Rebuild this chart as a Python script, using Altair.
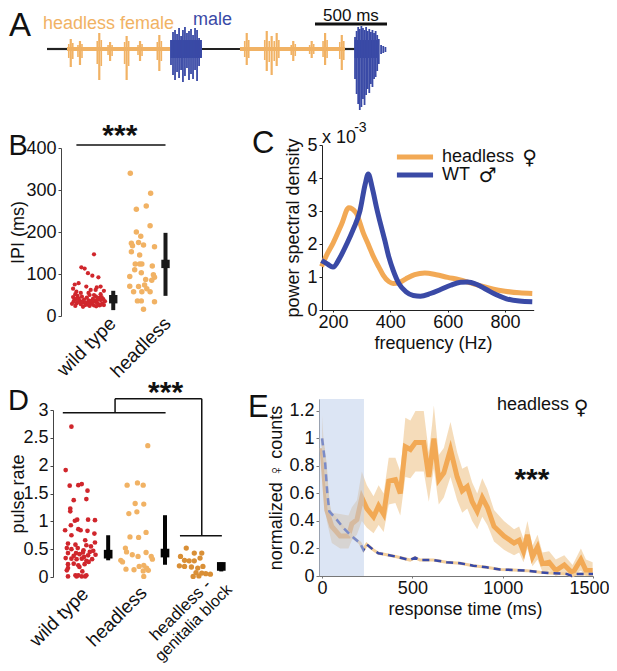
import altair as alt
import pandas as pd

FONT = "Liberation Sans"
SYM = "DejaVu Sans"
RED = "#d0262c"
ORANGE = "#f1b264"
DARKOR = "#d98f36"
BLUE = "#3a4aa6"
LINEOR = "#f2a955"
INK = "#111111"

# ---------------- data ----------------
# Panel A: song trace (time in ms, amplitude in arbitrary units)
a_black_start = [0, 1076, 2069]
a_black_end = [139, 1340, 2139]
a_fem_start = [139, 1340]
a_fem_end = [854, 2069]
a_pulse_t = [165, 229, 363, 438, 553, 646, 780, 1387, 1526, 1560, 1595, 1710, 1838, 1931, 2047]
a_pulse_top = [10, 8, 16, 7, 13, 8, 14, 16, 18, 13, 16, 8, 8, 16, 14]
a_pulse_bot = [-18, -16, -31, -12, -31, -12, -22, -16, -22, -26, -17, -12, -9, -16, -21]
a_sub_t = [151, 179, 215, 243, 349, 377, 424, 452, 539, 567, 632, 660, 766, 794,
           1373, 1401, 1512, 1543, 1578, 1610, 1696, 1724, 1824, 1852, 1917, 1945, 2033, 2061]
a_sub_top = [5, 6, 4, 5, 8, 9, 4, 4, 7, 8, 4, 5, 7, 8, 8, 9, 9, 8, 8, 9, 4, 5, 4, 5, 8, 9, 7, 8]
a_sub_bot = [-9, -10, -8, -9, -15, -17, -6, -7, -15, -17, -6, -7, -11, -12,
             -8, -9, -11, -13, -12, -9, -6, -7, -5, -5, -8, -9, -10, -11]
a_male1_t = [861, 875, 889, 903, 917, 931, 944, 958, 972, 986, 1000, 1014, 1028, 1042, 1056, 1069]
a_male1_top = [9, 17, 19, 15, 21, 13, 19, 22, 16, 18, 20, 14, 21, 19, 11, 4]
a_male1_bot = [-16, -26, -31, -23, -29, -21, -33, -27, -19, -31, -25, -30, -21, -32, -17, -8]
a_male2_t = [2139, 2150, 2161, 2172, 2183, 2194, 2205, 2216, 2227, 2238, 2249, 2260, 2271, 2282,
             2293, 2304, 2320, 2335, 2350]
a_male2_top = [12, 18, 22, 20, 23, 21, 19, 22, 18, 20, 17, 19, 16, 18, 14, 10, 4, 3, 2]
a_male2_bot = [-30, -45, -55, -61, -58, -50, -56, -46, -40, -44, -35, -38, -30, -28, -22, -15, -5, -4, -3]

# Panel B: inter-pulse interval (ms), jitter offset from group centre
b_wt_ipi = [147, 116, 113, 102, 96, 92, 75, 78, 70, 70, 62, 62, 58, 52, 55, 65, 60, 68,
            45, 40, 35, 30, 48, 42, 36, 28, 33, 46, 39, 31, 44, 27, 37, 50, 34, 29, 41, 25,
            36, 47, 32, 28, 43, 38, 30, 26, 35, 40, 24, 26, 24, 25, 33, 38, 29, 52, 55, 50,
            45, 32, 27, 34, 41, 30, 23, 22, 36, 44]
b_wt_dx = [0.10, -0.13, -0.07, -0.01, 0.07, 0.18, -0.25, -0.18, -0.04, 0.22, 0.04, 0.13, -0.22,
           0.22, 0.0, -0.28, 0.28, 0.15,
           -0.28, -0.25, -0.27, -0.22, -0.2, -0.18, -0.16, -0.14, -0.1, -0.12, -0.08, -0.05,
           -0.03, -0.01, 0.0, 0.02, 0.04, 0.06, 0.08, 0.1, 0.12, 0.13, 0.15, 0.18, 0.2, 0.22,
           0.25, 0.28, 0.3, 0.27, -0.24, -0.06, 0.02, 0.2, -0.2, 0.16, -0.3, -0.24, -0.14, 0.1,
           0.24, 0.08, 0.23, -0.12, -0.22, 0.0, 0.14, -0.1, 0.05, 0.16]
b_hd_ipi = [340, 292, 254, 262, 215, 200, 190, 173, 175, 167, 169, 165, 153, 145, 124, 124,
            124, 119, 110, 103, 98, 92, 94, 87, 85, 71, 70, 74, 65, 58, 58, 58, 36, 36, 34, 16]
b_hd_dx = [-0.24, 0.13, -0.13, 0.05, 0.12, -0.13, -0.05, -0.22, -0.09, -0.2, 0.0, 0.2, -0.22,
           -0.07, -0.15, -0.07, -0.03, 0.16, -0.16, -0.04, 0.18, 0.2, -0.25, 0.04, 0.15, -0.25,
           -0.09, 0.02, 0.06, -0.18, -0.03, 0.12, -0.11, -0.04, 0.2, 0.0]
b_err_x = [1.45, 2.4]
b_err_mid = [40, 124]
b_err_lo = [14, 48]
b_err_hi = [60, 198]

# Panel C: power spectral density (x 1e-3) vs frequency (Hz)
c_hd_f = [160, 180, 200, 230, 255, 280, 306, 325, 341, 360, 375, 395, 410, 430, 455, 485,
          520, 560, 600, 640, 680, 720, 760, 800, 850, 895]
c_hd_p = [1.32, 1.7, 2.02, 2.6, 3.1, 2.95, 2.33, 1.95, 1.62, 1.3, 1.06, 0.86, 0.8, 0.83,
          0.95, 1.07, 1.12, 1.07, 0.99, 0.92, 0.82, 0.72, 0.63, 0.57, 0.52, 0.5]
c_wt_f = [160, 180, 200, 225, 248, 271, 294, 312, 323, 337, 352, 366, 381, 395, 410, 430,
          455, 480, 505, 540, 575, 610, 645, 670, 700, 735, 770, 805, 850, 895]
c_wt_p = [1.5, 1.4, 1.3, 1.6, 2.0, 2.45, 3.0, 3.8, 4.12, 3.7, 3.1, 2.6, 2.1, 1.6, 1.2, 0.8,
          0.55, 0.44, 0.42, 0.5, 0.62, 0.75, 0.84, 0.85, 0.78, 0.62, 0.46, 0.34, 0.27, 0.25]

# Panel D: pulse rate
d_wt_rate = [2.70, 1.92, 1.64, 1.65, 1.67, 1.55, 1.38, 1.40, 1.23, 1.18, 1.01, 1.03, 1.03,
             1.02, 0.93, 0.84, 0.86, 0.84, 0.83, 0.78, 0.75, 0.66, 0.60, 0.58, 0.57, 0.62,
             0.52, 0.50, 0.52, 0.48, 0.45, 0.43, 0.43, 0.41, 0.39, 0.40, 0.34, 0.33, 0.32,
             0.33, 0.29, 0.32, 0.23, 0.24, 0.21, 0.23, 0.16, 0.18, 0.01, 0.01, 0.01, 0.01,
             0.03, 0.03, 0.03, 0.12, 0.10, 0.55, 0.47, 0.36, 0.27, 0.38, 0.44]
d_wt_dx = [-0.14, -0.24, -0.17, -0.02, 0.04, 0.14, -0.1, 0.12, -0.16, -0.16, -0.08, -0.04,
           0.15, 0.27, -0.15, -0.25, -0.02, 0.02, 0.14, 0.26, -0.14, 0.1, -0.2, -0.07, 0.12,
           0.27, -0.22, -0.14, -0.03, 0.07, 0.18, -0.2, -0.06, 0.0, 0.15, 0.28, -0.24, -0.14,
           -0.05, 0.04, 0.12, 0.22, -0.2, -0.1, -0.02, 0.09, -0.2, 0.0, -0.2, -0.05, 0.04, 0.1,
           -0.07, -0.02, 0.12, -0.22, 0.05, 0.2, 0.24, 0.08, 0.16, -0.1, 0.06]
d_hd_rate = [2.36, 1.65, 1.69, 1.65, 1.32, 1.31, 1.14, 1.17, 0.72, 0.71, 0.80, 0.52, 0.45,
             0.40, 0.44, 0.37, 0.27, 0.37, 0.14, 0.13, 0.19, 0.21, 0.16, 0.11, 0.12, 0.01,
             0.30, 0.32]
d_hd_dx = [0.19, -0.17, 0.01, 0.11, -0.03, 0.12, -0.14, 0.0, -0.12, 0.03, 0.16, -0.2, -0.18,
           -0.08, 0.16, 0.25, -0.25, 0.02, -0.19, -0.05, 0.04, 0.12, 0.17, 0.11, 0.2, 0.12,
           -0.28, 0.27]
d_gb_rate = [0.52, 0.43, 0.43, 0.37, 0.30, 0.29, 0.29, 0.34, 0.20, 0.19, 0.18, 0.16, 0.19,
             0.08, 0.07, 0.06, 0.05, 0.01, 0.02]
d_gb_dx = [-0.14, 0.0, 0.13, -0.24, -0.17, -0.09, 0.0, 0.1, -0.26, -0.17, -0.05, 0.06, 0.15,
           0.03, 0.13, 0.2, 0.28, -0.02, 0.08]
d_err_x = [1.5, 2.49, 3.47]
d_err_mid = [0.41, 0.43, 0.19]
d_err_lo = [0.30, 0.22, 0.10]
d_err_hi = [0.75, 1.11, 0.26]

# Panel E: normalized female counts vs response time (ms)
e_hd_t = [0, 26, 54, 100, 146, 165, 193, 220, 248, 285, 313, 341, 369, 406, 433, 461, 489,
          517, 563, 591, 609, 619, 646, 674, 711, 748, 776, 804, 831, 859, 887, 915, 952,
          1007, 1063, 1091, 1115, 1137, 1165, 1193, 1220, 1257, 1294, 1341, 1387, 1433,
          1461, 1498]
e_hd_mean = [0.93, 0.48, 0.36, 0.29, 0.29, 0.38, 0.41, 0.57, 0.49, 0.43, 0.51, 0.45, 0.69,
             0.70, 0.60, 0.94, 0.92, 0.97, 0.97, 0.72, 0.90, 1.00, 0.70, 0.75, 0.92, 0.72,
             0.62, 0.65, 0.54, 0.47, 0.57, 0.50, 0.36, 0.29, 0.24, 0.26, 0.18, 0.30, 0.14,
             0.21, 0.09, 0.10, 0.04, 0.08, 0.02, 0.12, 0.04, 0.04]
e_hd_lo = [0.82, 0.40, 0.24, 0.20, 0.20, 0.26, 0.30, 0.40, 0.35, 0.31, 0.37, 0.32, 0.52,
           0.53, 0.44, 0.72, 0.71, 0.76, 0.76, 0.54, 0.70, 0.78, 0.52, 0.57, 0.72, 0.55,
           0.46, 0.49, 0.40, 0.34, 0.43, 0.37, 0.25, 0.19, 0.15, 0.17, 0.10, 0.20, 0.07,
           0.12, 0.03, 0.04, 0.0, 0.02, 0.0, 0.04, 0.0, 0.0]
e_hd_hi = [1.17, 0.60, 0.46, 0.45, 0.44, 0.50, 0.55, 0.76, 0.66, 0.58, 0.66, 0.60, 0.86,
           0.86, 0.76, 1.15, 1.13, 1.20, 1.20, 0.90, 1.10, 1.24, 0.88, 0.93, 1.12, 0.90,
           0.78, 0.80, 0.68, 0.60, 0.71, 0.63, 0.48, 0.40, 0.34, 0.36, 0.27, 0.40, 0.22,
           0.30, 0.17, 0.18, 0.12, 0.15, 0.08, 0.20, 0.12, 0.10]
e_wt_t = [0, 17, 29, 40, 81, 118, 164, 210, 229, 247, 284, 312, 358, 413, 487, 515, 542, 616,
          690, 764, 837, 911, 985, 1059, 1133, 1206, 1280, 1354, 1382, 1409, 1500]
e_wt_mean = [1.0, 0.82, 0.60, 0.47, 0.41, 0.35, 0.29, 0.24, 0.19, 0.23, 0.19, 0.165, 0.155,
             0.14, 0.116, 0.133, 0.116, 0.116, 0.10, 0.093, 0.075, 0.063, 0.048, 0.044,
             0.039, 0.027, 0.02, 0.015, 0.0, 0.015, 0.015]
e_window = [-17, 232]

# ---------------- layout: one scale per panel (page pixels) ----------------
W, H = 601, 655


def S(dom, rng):
    return alt.Scale(domain=dom, range=[v - 8 for v in rng], nice=False, zero=False)


SCALES = {
    "A": (S([0, 2361], [47, 387]), S([-60, 60], [109, -11])),
    "B": (S([0.5, 2.55], [61, 173.75]), S([0, 400], [316, 148])),
    "C": (S([160, 900], [321.5, 533.7]), S([0, 5], [310, 145])),
    "D": (S([0.5, 3.6], [50.75, 228.75]), S([0, 3], [577, 410])),
    "E": (S([-17, 1500], [319, 593]), S([0, 1.287], [576, 399])),
}

AX = dict(grid=False, labelFontSize=18, titleFontSize=18, labelFont=FONT,
          titleFont=FONT, titleFontWeight="normal", labelColor=INK, titleColor=INK,
          labelOverlap=False, labelFlush=False)


def yaxis(px, values, title, title_px, color="#444", **kw):
    return alt.Axis(orient="left", offset=-(px - 8), values=values, title=title,
                    domainColor=color, tickColor=color, tickSize=3, labelPadding=2,
                    titleX=(title_px - 8) - (px - 8), titleBaseline="middle", **AX, **kw)


def xaxis(py, values, title, title_x, title_base, color="#444", **kw):
    return alt.Axis(orient="bottom", offset=(py - 8) - H, values=values, title=title,
                    domainColor=color, tickColor=color, tickSize=2, labelPadding=1,
                    titleX=title_x - 8, titleY=title_base - py, titleBaseline="alphabetic",
                    **AX, **kw)


layers = []


def add(panel, data, mark, mk, xax=None, yax=None, **enc):
    xs, ys = SCALES[panel]
    e = {"x": alt.X("x:Q", scale=xs, axis=xax), "y": alt.Y("y:Q", scale=ys, axis=yax)}
    if "x2" in data:
        e["x2"] = alt.X2("x2")
    if "y2" in data:
        e["y2"] = alt.Y2("y2")
    e.update(enc)
    ch = getattr(alt.Chart(pd.DataFrame(data)), "mark_" + mark)(**mk)
    layers.append(ch.encode(**e))


def text(panel, xs, ys, labels, **mk):
    base = dict(font=FONT, fontSize=18, color=INK, align="left", baseline="alphabetic")
    base.update(mk)
    add(panel, {"x": xs, "y": ys, "t": labels}, "text", base, text="t:N")


# ---------- Panel A ----------
add("A", {"x": a_black_start, "x2": a_black_end, "y": [0] * 3, "y2": [0] * 3}, "rule",
    dict(color="#222", strokeWidth=2.2))
add("A", {"x": a_fem_start, "x2": a_fem_end, "y": [-2, -2], "y2": [2, 2]}, "rect",
    dict(color=ORANGE, opacity=1))
add("A", {"x": a_sub_t, "x2": a_sub_t, "y": a_sub_top, "y2": a_sub_bot}, "rule",
    dict(color=ORANGE, strokeWidth=1.6))
add("A", {"x": a_pulse_t, "x2": a_pulse_t, "y": a_pulse_top, "y2": a_pulse_bot}, "rule",
    dict(color=ORANGE, strokeWidth=2.2))
add("A", {"x": [858, 2136], "x2": [1076, 2300], "y": [-9, -9], "y2": [9, 9]}, "rect",
    dict(color=BLUE, opacity=1))
add("A", {"x": a_male1_t + a_male2_t, "x2": a_male1_t + a_male2_t,
          "y": a_male1_top + a_male2_top, "y2": a_male1_bot + a_male2_bot}, "rule",
    dict(color=BLUE, strokeWidth=1.8))
add("A", {"x": [1861], "x2": [2361], "y": [25], "y2": [25]}, "rule",
    dict(color=INK, strokeWidth=3))
text("A", [2111], [28], ["500 ms"], align="center", fontSize=17)
text("A", [-28], [20], ["headless female"], color=ORANGE, fontSize=18)
text("A", [1014], [24], ["male"], color=BLUE, fontSize=18)
text("A", [-264], [13], ["A"], fontSize=33)

# ---------- Panel B ----------
add("B", {"x": [1 + d for d in b_wt_dx], "y": b_wt_ipi}, "circle",
    dict(color=RED, size=18, opacity=1),
    yax=yaxis(61, [0, 100, 200, 300, 400], "IPI (ms)", 18))
add("B", {"x": [2 + d for d in b_hd_dx], "y": b_hd_ipi}, "circle",
    dict(color=ORANGE, size=30, opacity=1))
add("B", {"x": b_err_x, "x2": b_err_x, "y": b_err_lo, "y2": b_err_hi}, "rule",
    dict(color="#1a1a1a", strokeWidth=4))
add("B", {"x": b_err_x, "y": b_err_mid}, "square", dict(color="#1a1a1a", size=70, opacity=1))
add("B", {"x": [0.78], "x2": [2.4], "y": [407], "y2": [407]}, "rule",
    dict(color=INK, strokeWidth=1.5))
text("B", [1.57], [408], ["***"], align="center", fontSize=30, fontWeight="bold")
text("B", [-0.455], [383], ["B"], fontSize=29)
text("B", [1.44, 2.44], [-11, -11], ["wild type", "headless"], angle=315, align="right",
     baseline="middle", fontSize=19)

# ---------- Panel C ----------
add("C", {"x": c_hd_f, "y": c_hd_p}, "line",
    dict(color=LINEOR, strokeWidth=5, interpolate="monotone"),
    xax=xaxis(310, [200, 400, 600, 800], "frequency (Hz)", 433, 348, color="#222"),
    yax=yaxis(322, [0, 1, 2, 3, 4, 5], "power spectral density", 293, color="#222"))
add("C", {"x": c_wt_f, "y": c_wt_p}, "line",
    dict(color=BLUE, strokeWidth=5, interpolate="monotone"))
add("C", {"x": [423], "x2": [549], "y": [4.64], "y2": [4.64]}, "rule",
    dict(color=LINEOR, strokeWidth=5))
add("C", {"x": [423], "x2": [549], "y": [4.09], "y2": [4.09]}, "rule",
    dict(color=BLUE, strokeWidth=5))
text("C", [580, 580], [4.64, 4.09], ["headless", "WT"], baseline="middle")
text("C", [860, 708], [4.62, 4.07], ["\u2640", "\u2642"], baseline="middle", font=SYM,
     fontSize=20)
text("C", [162], [5.06], ["x 10"])
text("C", [274], [5.4], ["-3"], fontSize=14)
text("C", [-82], [4.76], ["C"], fontSize=31)

# ---------- Panel D ----------
add("D", {"x": [1 + d for d in d_wt_dx], "y": d_wt_rate}, "circle",
    dict(color=RED, size=22, opacity=1),
    yax=yaxis(53, [0, 0.5, 1, 1.5, 2, 2.5, 3], "pulse rate", 18, format="~g"))
add("D", {"x": [2 + d for d in d_hd_dx], "y": d_hd_rate}, "circle",
    dict(color=ORANGE, size=28, opacity=1))
add("D", {"x": [3 + d for d in d_gb_dx], "y": d_gb_rate}, "circle",
    dict(color=DARKOR, size=28, opacity=1))
add("D", {"x": d_err_x, "x2": d_err_x, "y": d_err_lo, "y2": d_err_hi}, "rule",
    dict(color="#050505", strokeWidth=4))
add("D", {"x": d_err_x, "y": d_err_mid}, "square", dict(color="#050505", size=75, opacity=1))
add("D", {"x": [0.71, 1.62, 1.62, 3.13, 2.75], "x2": [2.5, 1.62, 3.13, 3.13, 3.48],
          "y": [2.95, 2.95, 3.2, 3.2, 0.74], "y2": [2.95, 3.2, 3.2, 0.74, 0.74]}, "rule",
    dict(color=INK, strokeWidth=1.5))
text("D", [2.5], [3.15], ["***"], align="center", fontSize=30, fontWeight="bold")
text("D", [-0.243], [3.0], ["D"], fontSize=29)
text("D", [1.1, 2.12], [-0.25, -0.23], ["wild type", "headless"], angle=315, align="right",
     baseline="middle", fontSize=19)
text("D", [3.245], [-0.10], ["headless -"], angle=315, align="right",
     baseline="middle", fontSize=17)
text("D", [3.61], [-0.18], ["genitalia block"], angle=315, align="right",
     baseline="middle", fontSize=16)

# ---------- Panel E ----------
add("E", {"x": e_hd_t, "y": e_hd_lo, "y2": e_hd_hi}, "area",
    dict(color="#eec58c", opacity=0.6))
add("E", {"x": e_hd_t, "y": e_hd_mean}, "line",
    dict(color=LINEOR, strokeWidth=5),
    xax=xaxis(576, [0, 500, 1000, 1500], "response time (ms)", 465, 614, color="#777",
              format="d",
              labelOffset={"condition": {"test": "datum.value == 1500", "value": -4},
                           "value": 0}),
    yax=yaxis(319, [0, 0.2, 0.4, 0.6, 0.8, 1, 1.2], "normalized \u2640 counts", 276,
              color="#777", format="~g"))
add("E", {"x": e_wt_t, "y": e_wt_mean}, "line", dict(color="#f3cf9c", strokeWidth=3))
add("E", {"x": e_wt_t, "y": e_wt_mean}, "line",
    dict(color=BLUE, strokeWidth=2.5, strokeDash=[7, 5]))
add("E", {"x": [e_window[0]], "x2": [e_window[1]], "y": [0], "y2": [1.287]}, "rect",
    dict(color="#b9cbe9", opacity=0.5))
text("E", [968], [1.24], ["headless"], baseline="middle")
text("E", [1393], [1.225], ["\u2640"], baseline="middle", font=SYM, fontSize=20)
text("E", [1162], [0.63], ["***"], align="center", fontSize=30, fontWeight="bold")
text("E", [-410], [1.156], ["E"], fontSize=31)

chart = (
    alt.layer(*layers)
    .resolve_scale(x="independent", y="independent")
    .resolve_axis(x="independent", y="independent")
    .properties(width=W, height=H, autosize=alt.AutoSizeParams(type="none"), padding=0,
                background="white")
    .configure_view(strokeWidth=0)
)

chart.save("out.html", embed_options={"renderer": "svg", "actions": False})
